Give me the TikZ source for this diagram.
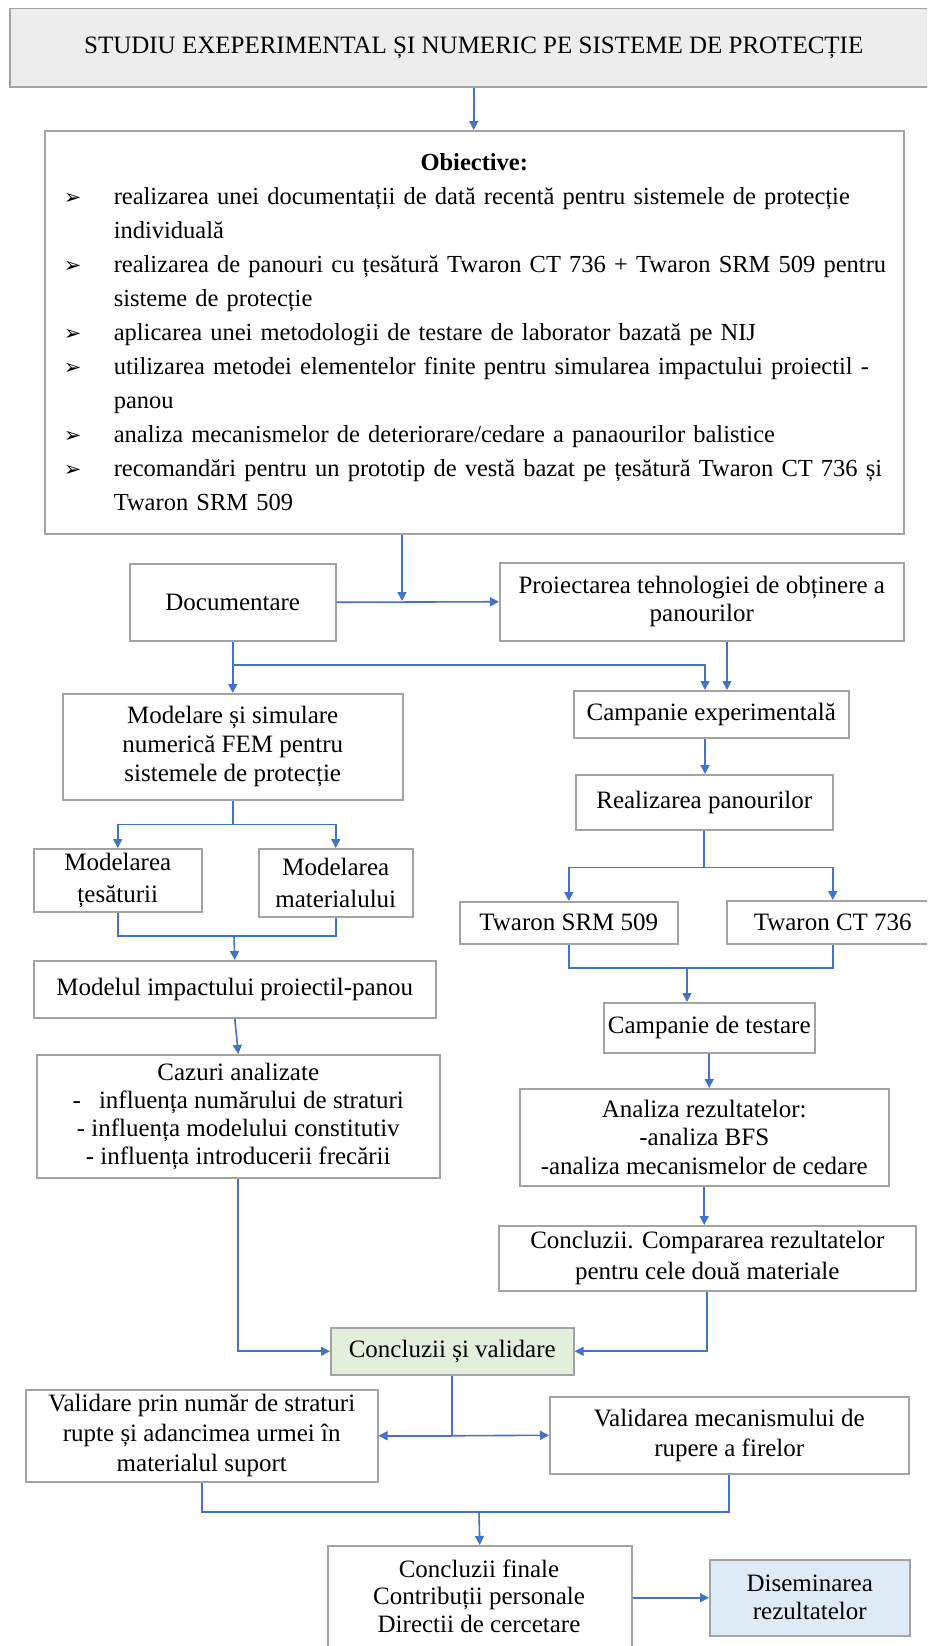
\documentclass[tikz,border=0pt]{standalone}
\usepackage{fontspec}
\setmainfont{Liberation Serif}
\newfontfamily\bulletfont{DejaVu Sans}
\usetikzlibrary{arrows.meta,calc}
\definecolor{linkblue}{HTML}{4472C4}
\definecolor{framegray}{HTML}{A3A3A3}
\definecolor{titlefill}{HTML}{EDEDED}
\definecolor{validfill}{HTML}{E2EFDA}
\definecolor{dissfill}{HTML}{DEEBF7}
\newcommand{\objbullet}{{\bulletfont\fontsize{21}{34}\selectfont ➢}}
\newcommand{\objitem}[1]{\par\noindent\makebox[50pt][l]{\objbullet}\mbox{#1}}
\newcommand{\objcont}[1]{\par\noindent\hspace*{50pt}\mbox{#1}}

\begin{document}
\begin{tikzpicture}[x=1pt, y=-1pt,
  box/.style={draw=framegray, line width=1.5pt, fill=white, align=center, inner sep=0pt, font=\fontsize{25}{29}\selectfont},
  arr/.style={draw=linkblue, line width=1.6pt, -{Triangle[length=9pt,width=9pt]}},
  link/.style={draw=linkblue, line width=1.6pt}]
  \clip (0,0) rectangle (927,1646);
  \fill[white] (0,0) rectangle (927,1646);

  % title and objectives
  \node[box, fill=titlefill, anchor=north west, minimum width=928, minimum height=78] (title) at (9,8) {STUDIU EXEPERIMENTAL ȘI NUMERIC PE SISTEME DE PROTECȚIE};
  \node[box, anchor=north west, minimum width=859, minimum height=403, text width=821, align=left, font=\fontsize{24.5}{34}\selectfont] (obj) at (44,130) {%
    {\centering\textbf{Obiective:}\par}
    \objitem{realizarea unei documentații de dată recentă pentru sistemele de protecție}
    \objcont{individuală}
    \objitem{realizarea de panouri cu țesătură Twaron CT 736 + Twaron SRM 509 pentru}
    \objcont{sisteme de protecție}
    \objitem{aplicarea unei metodologii de testare de laborator bazată pe NIJ}
    \objitem{utilizarea metodei elementelor finite pentru simularea impactului proiectil -}
    \objcont{panou}
    \objitem{analiza mecanismelor de deteriorare/cedare a panaourilor balistice}
    \objitem{recomandări pentru un prototip de vestă bazat pe țesătură Twaron CT 736 și}
    \objcont{Twaron SRM 509}\par\vspace*{8pt}};

  % second row
  \node[box, anchor=north west, minimum width=206, minimum height=77] (doc) at (129,563) {Documentare};
  \node[box, anchor=north west, minimum width=404, minimum height=78, font=\fontsize{25}{28}\selectfont] (proj) at (499,562) {Proiectarea tehnologiei de obținere a\\panourilor};

  % left column: simulation
  \node[box, anchor=north west, minimum width=340, minimum height=106] (model) at (62,693) {Modelare și simulare\\numerică FEM pentru\\sistemele de protecție};
  \node[box, anchor=north west, minimum width=168, minimum height=63, font=\fontsize{25}{32}\selectfont] (tes) at (33,848) {Modelarea\\țesăturii};
  \node[box, anchor=north west, minimum width=154, minimum height=68, font=\fontsize{25}{32}\selectfont] (mat) at (258,848) {Modelarea\\materialului};
  \node[box, anchor=north west, minimum width=402, minimum height=57] (impact) at (33,960) {Modelul impactului proiectil-panou};
  \node[box, anchor=north west, minimum width=403, minimum height=123, font=\fontsize{25}{28}\selectfont] (cazuri) at (36,1054) {Cazuri analizate\\-\hspace{18pt}influența numărului de straturi\\- influența modelului constitutiv\\- influența introducerii frecării};

  % right column: experiments
  \node[box, anchor=north west, minimum width=275, minimum height=47] (campexp) at (573,690) {Campanie experimentală};
  \node[box, anchor=north west, minimum width=257, minimum height=55] (realiz) at (575,774) {Realizarea panourilor};
  \node[box, anchor=north west, minimum width=218, minimum height=42] (srm) at (459,901) {Twaron SRM 509};
  \node[box, anchor=north west, minimum width=212, minimum height=43] (ct) at (726,900) {Twaron CT 736};
  \node[box, anchor=north west, minimum width=211, minimum height=50] (testare) at (603,1002) {Campanie de testare};
  \node[box, anchor=north west, minimum width=369, minimum height=97, font=\fontsize{25}{28.5}\selectfont] (analiza) at (519,1088) {Analiza rezultatelor:\\-analiza BFS\\-analiza mecanismelor de cedare};
  \node[box, anchor=north west, minimum width=417, minimum height=65, font=\fontsize{25}{31}\selectfont] (compar) at (498,1225) {Concluzii. Compararea rezultatelor\\pentru cele două materiale};

  % validation and conclusions
  \node[box, fill=validfill, anchor=north west, minimum width=243, minimum height=47] (valid) at (330,1327) {Concluzii și validare};
  \node[box, anchor=north west, minimum width=352, minimum height=92, font=\fontsize{25}{30}\selectfont] (valprin) at (25,1389) {Validare prin număr de straturi\\rupte și adancimea urmei în\\materialul suport};
  \node[box, anchor=north west, minimum width=359, minimum height=77, font=\fontsize{25}{30}\selectfont] (valmec) at (549,1396) {Validarea mecanismului de\\rupere a firelor};
  \node[box, anchor=north west, minimum width=304, minimum height=130] (finale) at (327,1545) {};
  \node[align=center, inner sep=0pt, font=\fontsize{25}{27.5}\selectfont] (finaletxt) at (479,1596) {Concluzii finale\\Contribuții personale\\Directii de cercetare};
  \node[box, fill=dissfill, anchor=north west, minimum width=200, minimum height=76, font=\fontsize{25}{28}\selectfont] (disem) at (709,1559) {Diseminarea\\rezultatelor};

  % junctions
  \coordinate (j1) at (402,601);
  \coordinate (j2) at (232,665);
  \coordinate (j3) at (705,665);
  \coordinate (j4) at (727,665);
  \coordinate (j5) at ($(realiz.south)+(0,37)$);
  \coordinate (j6) at (687,968);
  \coordinate (j7) at ($(model.south)+(0,24)$);
  \coordinate (j8) at (234,936);
  \coordinate (j9) at (valid.south |- valprin.east);
  \coordinate (j10) at (479,1512);

  % connectors
  \draw[arr] (title.south) -- (title.south |- obj.north);
  \draw[arr] (obj.south -| j1) -- (j1);
  \draw[arr] (doc.east) -- (proj.west);
  \draw[arr] (doc.south) -- (model.north);
  \draw[arr] (j2) -- (j3) -- (j3 |- campexp.north);
  \draw[arr] (proj.south -| j4) -- (j4 |- campexp.north);
  \draw[arr] (campexp.south -| j3) -- (j3 |- realiz.north);
  \draw[link] (realiz.south) -- (j5);
  \draw[arr] (j5) -| (srm.north);
  \draw[arr] (j5) -| (ct.north);
  \draw[link] (srm.south) |- (ct.south |- j6) -- (ct.south);
  \draw[arr] (j6) -- (j6 |- testare.north);
  \draw[arr] (testare.south) -- (testare.south |- analiza.north);
  \draw[arr] (analiza.south) -- (analiza.south |- compar.north);
  \draw[arr] (compar.south) |- (valid.east);
  \draw[link] (model.south) -- (j7);
  \draw[arr] (j7) -| (tes.north);
  \draw[arr] (j7) -| (mat.north);
  \draw[link] (tes.south) |- (mat.south |- j8) -- (mat.south);
  \draw[arr] (j8) -- (impact.north);
  \draw[arr] (impact.south) -- (cazuri.north);
  \draw[arr] (cazuri.south) |- (valid.west);
  \draw[link] (valid.south) -- (j9);
  \draw[arr] (j9) -- (valprin.east);
  \draw[arr] (j9) -- (valmec.west);
  \draw[link] (valprin.south) |- (valmec.south |- j10) -- (valmec.south);
  \draw[arr] (j10) -- (finale.north);
  \draw[arr] (finale.east |- disem.west) -- (disem.west);
\end{tikzpicture}
\end{document}
